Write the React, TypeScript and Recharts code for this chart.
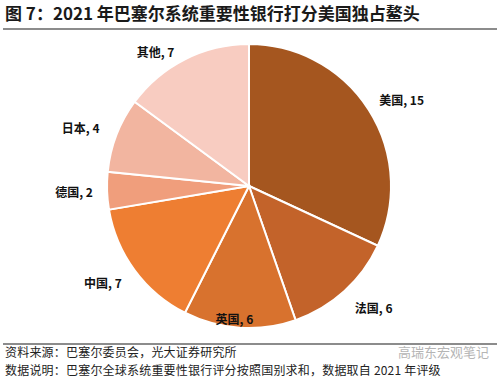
import React from "react";
import { PieChart, Pie, Cell } from "recharts";

const countries = ["美国", "法国", "英国", "中国", "德国", "日本", "其他"];
const scores = [15, 6, 6, 7, 2, 4, 7];
const colors = ["#A5561F", "#C3632A", "#D8722E", "#EE7E32", "#F09E7C", "#F2B5A0", "#F8CCC1"];

const data = countries.map((name, i) => ({ name, value: scores[i] }));

const FONT = '"Noto Sans CJK SC", "Noto Sans", sans-serif';
const RAD = Math.PI / 180;

// label placement nudges (style), per slice
const labelNudge: [number, number][] = [
  [6, 7],
  [8, -8],
  [-3, -41],
  [-6, -7],
  [-1, 0],
  [-6, 4],
  [-15, 21],
];

const renderLabel = (props: any) => {
  const { cx, cy, midAngle, outerRadius, index, name, value } = props;
  const r = outerRadius + 32;
  const x = cx + r * Math.cos(-midAngle * RAD) + labelNudge[index][0];
  const y = cy + r * Math.sin(-midAngle * RAD) + labelNudge[index][1];
  return (
    <text
      x={x}
      y={y}
      textAnchor="middle"
      dominantBaseline="central"
      fontFamily={FONT}
      fontSize={12}
      fontWeight="bold"
      fill="#111"
    >
      {`${name}, ${value}`}
    </text>
  );
};

export default function App() {
  return (
    <div
      style={{
        position: "absolute",
        left: 0,
        top: 0,
        width: 500,
        height: 380,
        background: "#fff",
        fontFamily: FONT,
        overflow: "hidden",
      }}
    >
      <div
        style={{
          position: "absolute",
          left: 5,
          top: 2,
          fontSize: 17,
          fontWeight: "bold",
          color: "#1a1a1a",
          whiteSpace: "nowrap",
          lineHeight: "22px",
        }}
      >
        图 7：2021 年巴塞尔系统重要性银行打分美国独占鳌头
      </div>
      <div style={{ position: "absolute", left: 3, top: 28, width: 494, height: 1.5, background: "#8c8c8c" }} />
      <div style={{ position: "absolute", left: 0, top: 0 }}>
        <PieChart width={500} height={380} margin={{ top: 0, right: 0, bottom: 0, left: 0 }}>
          <Pie
            data={data}
            dataKey="value"
            nameKey="name"
            cx={249}
            cy={186}
            outerRadius={142}
            startAngle={90}
            endAngle={-270}
            stroke="#fff"
            strokeWidth={2}
            label={renderLabel}
            labelLine={false}
            isAnimationActive={false}
          >
            {data.map((d, i) => (
              <Cell key={d.name} fill={colors[i]} />
            ))}
          </Pie>
        </PieChart>
      </div>
      <div style={{ position: "absolute", left: 3, top: 343, width: 494, height: 1.5, background: "#8c8c8c" }} />
      <div
        style={{
          position: "absolute",
          left: 398,
          top: 344,
          fontSize: 13,
          lineHeight: "15px",
          color: "#b5b5b5",
          whiteSpace: "nowrap",
        }}
      >
        高瑞东宏观笔记
      </div>
      <div
        style={{
          position: "absolute",
          left: 5,
          top: 344,
          fontSize: 12,
          letterSpacing: 0.2,
          color: "#222",
          whiteSpace: "nowrap",
          lineHeight: "16px",
        }}
      >
        资料来源：巴塞尔委员会，光大证券研究所
      </div>
      <div
        style={{
          position: "absolute",
          left: 5,
          top: 362,
          fontSize: 12,
          letterSpacing: 0.2,
          color: "#222",
          whiteSpace: "nowrap",
          lineHeight: "16px",
        }}
      >
        数据说明：巴塞尔全球系统重要性银行评分按照国别求和，数据取自 2021 年评级
      </div>
    </div>
  );
}
